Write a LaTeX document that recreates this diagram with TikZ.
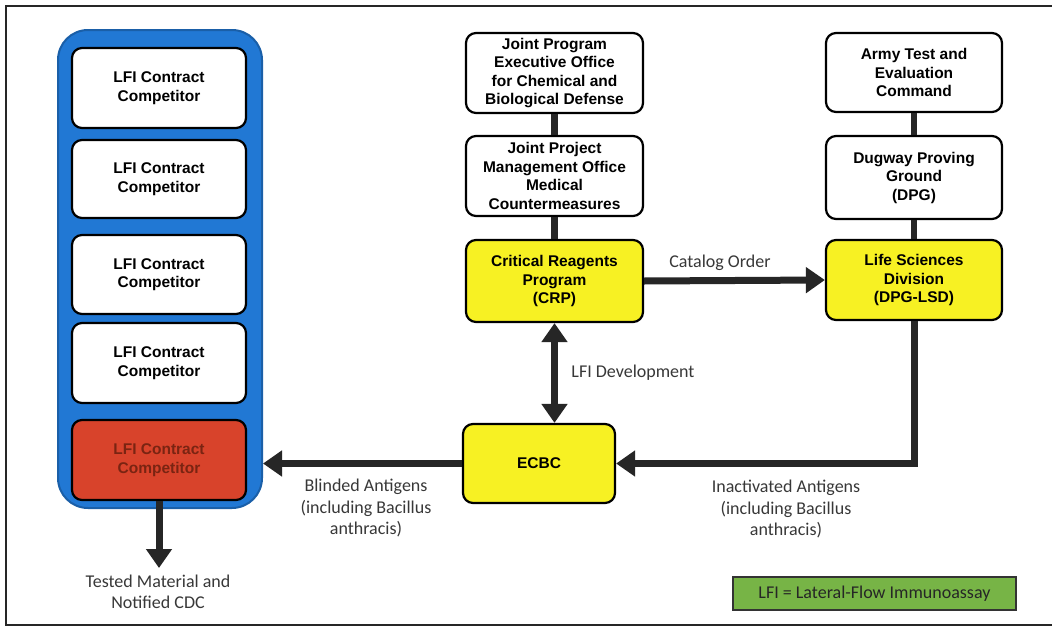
\documentclass[tikz,border=0pt]{standalone}
\usepackage{fontspec}
\setmainfont{Liberation Sans}
\newfontfamily\labelfont{Carlito}
\usetikzlibrary{arrows.meta,calc}
\definecolor{contblue}{HTML}{2178D4}
\definecolor{contedge}{HTML}{1A5FA8}
\definecolor{boxyellow}{HTML}{F7F123}
\definecolor{boxred}{HTML}{D8432B}
\definecolor{redtext}{HTML}{7A2412}
\definecolor{legendgreen}{HTML}{77B446}
\definecolor{arrowgray}{HTML}{262626}
\tikzset{
  x=1pt, y=-1pt,
  orgbox/.style={draw=black, line width=2.2pt, rounded corners=10pt, fill=white,
    align=center, inner sep=0pt, font=\fontsize{15.5}{18.5}\selectfont\bfseries},
  yelbox/.style={orgbox, fill=boxyellow},
  flow/.style={draw=arrowgray, line width=7pt, -{Triangle[length=19pt,width=25pt]}},
  link/.style={draw=arrowgray, line width=6.5pt},
  lbl/.style={align=center, text=black!78, font=\labelfont\fontsize{18}{21.5}\selectfont},
}
\begin{document}
\begin{tikzpicture}
\useasboundingbox (0,0) rectangle (1052,629);
\fill[white] (0,0) rectangle (1052,629);
% outer frame
\draw[line width=2pt, black!85] (1052,6) -- (6,6) -- (6,625) -- (1052,625);

% left container
\node[draw=contedge, line width=2pt, fill=contblue, rounded corners=30pt,
  minimum width=204pt, minimum height=478pt, inner sep=0pt] (cont) at (160,269) {};
\node[orgbox, minimum width=174pt, minimum height=80pt] (c1) at (159,88) {LFI Contract\\Competitor};
\node[orgbox, minimum width=174pt, minimum height=78pt] (c2) at (159,179) {LFI Contract\\Competitor};
\node[orgbox, minimum width=174pt, minimum height=79pt] (c3) at (159,274.5) {LFI Contract\\Competitor};
\node[orgbox, minimum width=174pt, minimum height=80pt] (c4) at (159,363) {LFI Contract\\Competitor};
\node[orgbox, fill=boxred, text=redtext, minimum width=174pt, minimum height=80pt] (c5) at (159,460) {LFI Contract\\Competitor};

% middle column
\node[orgbox, minimum width=177pt, minimum height=80pt] (jpeo) at (554.5,73) {Joint Program\\Executive Office\\for Chemical and\\Biological Defense};
\node[orgbox, minimum width=177pt, minimum height=80pt] (jpmo) at (554.5,176) {Joint Project\\Management Office\\Medical\\Countermeasures};
\node[yelbox, minimum width=177pt, minimum height=82pt] (crp) at (554.5,281) {Critical Reagents\\Program\\(CRP)};
\node[yelbox, minimum width=152pt, minimum height=79pt] (ecbc) at (539,463.5) {ECBC};

% right column
\node[orgbox, minimum width=176pt, minimum height=79pt] (atec) at (914,72.5) {Army Test and\\Evaluation\\Command};
\node[orgbox, minimum width=176pt, minimum height=83pt] (dpg) at (914,177.5) {Dugway Proving\\Ground\\(DPG)};
\node[yelbox, minimum width=176pt, minimum height=80pt] (lsd) at (914,280) {Life Sciences\\Division\\(DPG-LSD)};

% vertical links
\draw[link] (jpeo.south) -- (jpmo.north);
\draw[link] (jpmo.south) -- (crp.north);
\draw[link] (atec.south) -- (dpg.north);
\draw[link] (dpg.south) -- (lsd.north);

% catalog order
\draw[flow] (crp.east) -- (lsd.west);
\node[lbl] (lcat) at (720,263) {Catalog Order};

% LFI development
\draw[flow, {Triangle[length=19pt,width=25pt]}-{Triangle[length=19pt,width=25pt]}] (crp.south) -- (crp.south |- ecbc.north);
\node[lbl] (ldev) at (633,373) {LFI Development};

% inactivated antigens
\coordinate (corner) at (lsd.south |- ecbc.east);
\draw[flow] (lsd.south) -- (corner) -- (ecbc.east);
\node[lbl] (linact) at (786,509) {Inactivated Antigens\\(including Bacillus\\anthracis)};

% blinded antigens
\draw[flow] (ecbc.west) -- (ecbc.west -| cont.east);
\node[lbl] (lblind) at (366,508) {Blinded Antigens\\(including Bacillus\\anthracis)};

% tested material
\coordinate (tend) at (159,568);
\draw[flow] (c5.south) -- (tend);
\node[lbl] (ltest) at (158,592) {Tested Material and\\Notified CDC};

% legend
\node[draw=black!80, line width=1.6pt, fill=legendgreen, minimum width=283pt, minimum height=33pt,
  inner sep=0pt, text=black!85, font=\labelfont\fontsize{18}{19}\selectfont] (legend) at (874.5,593.5) {LFI = Lateral-Flow Immunoassay};
\end{tikzpicture}
\end{document}
